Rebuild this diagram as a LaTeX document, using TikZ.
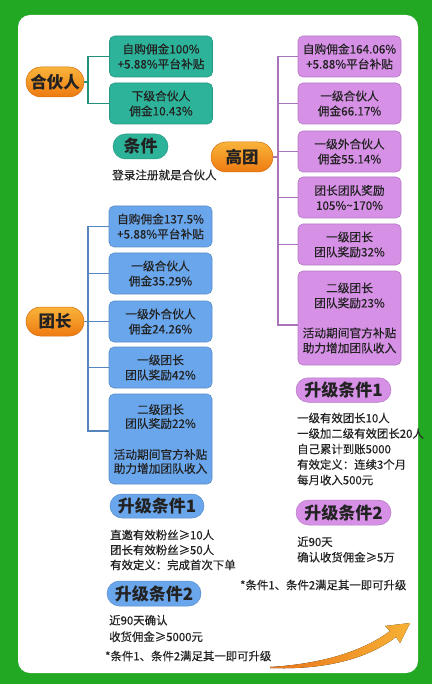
\documentclass[tikz,border=0pt]{standalone}
\usepackage{fontspec}
\setmainfont{Noto Sans CJK SC}
\newfontfamily\medfont[FakeBold=0.35]{Noto Sans CJK SC}
\usetikzlibrary{calc,shapes.misc}
\definecolor{bggreen}{HTML}{22A822}
\definecolor{tealc}{HTML}{2DB39A}
\definecolor{bluec}{HTML}{6AA6EC}
\definecolor{purc}{HTML}{D690E6}
\definecolor{otop}{HTML}{F9B43A}
\definecolor{obot}{HTML}{EE7A12}
\definecolor{txt}{HTML}{222222}
\definecolor{arrL}{HTML}{E8741A}
\definecolor{arrR}{HTML}{F7B135}
\begin{document}
\begin{tikzpicture}[x=1pt,y=-1pt,
  box/.style={rectangle, rounded corners=5pt, draw=#1!85!black, fill=#1, line width=0.6pt,
    minimum width=103pt, minimum height=41pt, inner sep=0pt, align=center,
    font=\medfont\fontsize{11.7}{15}\selectfont, text=txt},
  opill/.style={rounded rectangle, top color=otop, bottom color=obot, draw=obot!90!black,
    line width=0.5pt, minimum height=30pt, inner sep=0pt,
    font=\fontsize{16.5}{18}\selectfont\bfseries, text=txt},
  cpill/.style={rounded rectangle, fill=#1, draw=#1!85!black, line width=0.5pt,
    minimum width=95pt, minimum height=24.5pt, inner sep=0pt,
    font=\fontsize{17}{19}\selectfont\bfseries, text=txt},
  conn/.style={draw=#1!80!black, line width=1.2pt},
  plain/.style={inner sep=0pt, align=left, font=\medfont\fontsize{11.4}{15.5}\selectfont, text=txt}
]
\fill[bggreen] (0,0) rectangle (432,684);
\useasboundingbox (0,0) rectangle (432,684);
\fill[white, rounded corners=12pt] (18,15) rectangle (418,673);

% ---- 合伙人 ----
\node[opill, minimum width=58pt] (hh) at (55,82) {合伙人};
\node[box=tealc] (t1) at (161,56.5) {自购佣金100\%\\+5.88\%平台补贴};
\node[box=tealc] (t2) at (161,103.5) {下级合伙人\\佣金10.43\%};
\coordinate (ts) at (88,82);
\draw[conn=tealc] (t1.west) -| (ts) |- (t2.west);
\draw[conn=tealc] (hh.east) -- (ts);
\node[cpill=tealc, minimum width=55pt, minimum height=25pt] (tj) at (140.5,146.5) {条件};
\node[plain, anchor=west, font=\medfont\fontsize{11.6}{14}\selectfont] (tjt) at (112,175) {登录注册就是合伙人};

% ---- 高团 ----
\node[opill, minimum width=62pt] (gt) at (242,157) {高团};
\node[box=purc] (p1) at (349.5,56.5) {自购佣金164.06\%\\+5.88\%平台补贴};
\node[box=purc] (p2) at (349.5,103.5) {一级合伙人\\佣金66.17\%};
\node[box=purc] (p3) at (349.5,151.5) {一级外合伙人\\佣金55.14\%};
\node[box=purc] (p4) at (349.5,197.5) {团长团队奖励\\105\%\textasciitilde170\%};
\node[box=purc] (p5) at (349.5,244.5) {一级团长\\团队奖励32\%};
\node[box=purc, minimum height=94pt] (p6) at (349.5,318) {二级团长\\团队奖励23\%\\[15pt]活动期间官方补贴\\助力增加团队收入};
\coordinate (ps) at (278,157);
\draw[conn=purc] (p1.west) -| (ps) |- ($(p6.west)+(0,7)$);
\draw[conn=purc] (ps) |- (p2.west);
\draw[conn=purc] (ps) |- (p3.west);
\draw[conn=purc] (ps) |- (p4.west);
\draw[conn=purc] (ps) |- (p5.west);
\draw[conn=purc] (gt.east) -- (ps);

\node[cpill=purc] (rc1) at (343.5,390) {升级条件1};
\node[plain, anchor=west] (rc1t) at (297,449) {一级有效团长10人\\一级加二级有效团长20人\\自己累计到账5000\\有效定义：连续3个月\\每月收入500元};
\node[cpill=purc, minimum height=25pt] (rc2) at (343.5,512.5) {升级条件2};
\node[plain, anchor=west] (rc2t) at (297,549.5) {近90天\\确认收货佣金≥5万};
\node[plain, anchor=west] (rnote) at (240,585) {*条件1、条件2满足其一即可升级};

% ---- 团长 ----
\node[opill, minimum width=58pt, minimum height=29pt] (tz) at (55,321.5) {团长};
\node[box=bluec] (b1) at (160.5,226.5) {自购佣金137.5\%\\+5.88\%平台补贴};
\node[box=bluec] (b2) at (160.5,273.5) {一级合伙人\\佣金35.29\%};
\node[box=bluec] (b3) at (160.5,321.5) {一级外合伙人\\佣金24.26\%};
\node[box=bluec] (b4) at (160.5,367.5) {一级团长\\团队奖励42\%};
\node[box=bluec, minimum height=90pt, font=\medfont\fontsize{11.7}{14}\selectfont] (b5) at (160.5,439) {二级团长\\团队奖励22\%\\[17pt]活动期间官方补贴\\助力增加团队收入};
\coordinate (bs) at (88,321.5);
\draw[conn=bluec] (b1.west) -| (bs) |- ($(b5.west)+(0,-8)$);
\draw[conn=bluec] (bs) |- (b2.west);
\draw[conn=bluec] (bs) |- (b4.west);
\draw[conn=bluec] (tz.east) -- (b3.west);

\node[cpill=bluec, minimum width=94pt, minimum height=24pt] (lc1) at (157,506) {升级条件1};
\node[plain, anchor=west, font=\medfont\fontsize{11.4}{15}\selectfont] (lc1t) at (110,550) {直邀有效粉丝≥10人\\团长有效粉丝≥50人\\有效定义：完成首次下单};
\node[cpill=bluec, minimum width=94pt, minimum height=25pt] (lc2) at (154,593.5) {升级条件2};
\node[plain, anchor=west, font=\medfont\fontsize{11.4}{16.5}\selectfont] (lc2t) at (109,628.5) {近90天确认\\收货佣金≥5000元};
\node[plain, anchor=west] (lnote) at (105,656) {*条件1、条件2满足其一即可升级};

% ---- arrow ----
\fill[left color=arrL, right color=arrR]
  (270,667) .. controls (320,664) and (362,652) .. (390,631)
  -- (385,626) -- (410,623) -- (400,643) -- (396,637)
  .. controls (366,660) and (322,670) .. (270,668) -- cycle;
\end{tikzpicture}
\end{document}
